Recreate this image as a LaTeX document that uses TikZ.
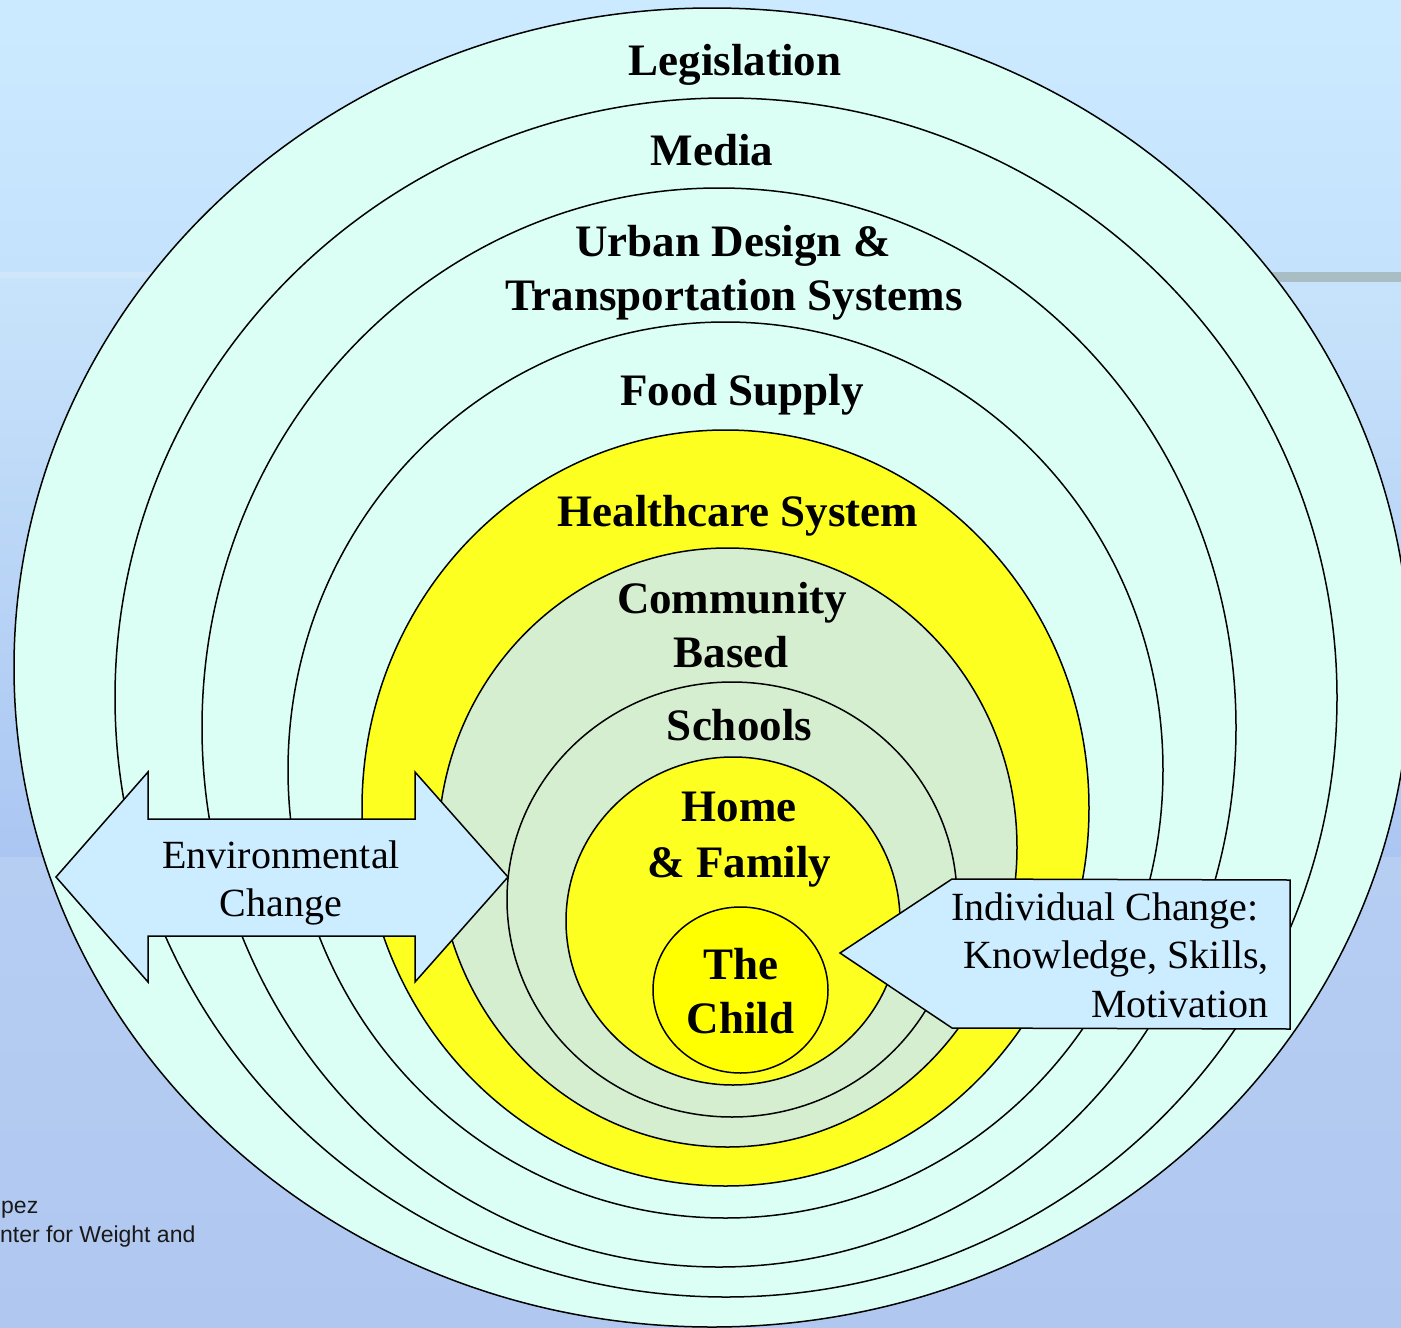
\documentclass[tikz,border=0pt]{standalone}
\usepackage{fontspec}
\setmainfont{Liberation Serif}
\newfontfamily\sansfnt{Liberation Sans}
\definecolor{ringcyan}{RGB}{220,255,245}
\definecolor{ringyellow}{RGB}{252,255,32}
\definecolor{childyellow}{RGB}{255,255,0}
\definecolor{ringgreen}{RGB}{214,238,208}
\definecolor{arrowblue}{RGB}{204,236,255}
\definecolor{bgA}{RGB}{204,234,255}
\definecolor{bgB}{RGB}{196,226,252}
\definecolor{bgC}{RGB}{200,228,251}
\definecolor{bgD}{RGB}{171,198,242}
\definecolor{bgE}{RGB}{182,206,242}
\definecolor{bgF}{RGB}{176,200,240}
\definecolor{stripcol}{RGB}{208,230,250}
\definecolor{graycol}{RGB}{168,190,196}
\definecolor{smalltext}{RGB}{25,25,25}
\tikzset{
  ring/.style={draw=black, line width=1.5pt},
  arrowshape/.style={draw=black, line width=1.5pt, fill=arrowblue},
  lbl/.style={font=\fontsize{45}{54}\selectfont\bfseries, anchor=base, inner sep=0pt},
  txt/.style={font=\fontsize{40}{48}\selectfont, inner sep=0pt},
  credit/.style={font=\sansfnt\fontsize{23}{28}\selectfont, text=smalltext, anchor=base west, inner sep=0pt}
}
\begin{document}
\begin{tikzpicture}[x=1pt,y=-1pt]
\useasboundingbox (0,0) rectangle (1401,1328);
\clip (0,0) rectangle (1401,1328);
% background
\shade[top color=bgA, bottom color=bgB] (0,0) rectangle (1401,272);
\shade[top color=bgC, bottom color=bgD] (0,272) rectangle (1401,857);
\shade[top color=bgE, bottom color=bgF] (0,857) rectangle (1401,1328);
\fill[stripcol] (0,272) rectangle (300,278);
\fill[graycol] (1100,272) rectangle (1401,282);
% rings
\path[ring, fill=ringcyan]    (712,667.5)   ellipse [x radius=698pt,   y radius=659.5pt];
\path[ring, fill=ringcyan]    (726,697.5)   ellipse [x radius=611pt,   y radius=599.5pt];
\path[ring, fill=ringcyan]    (719,727.5)   ellipse [x radius=517pt,   y radius=539.5pt];
\path[ring, fill=ringcyan]    (725.5,770)   ellipse [x radius=437.5pt, y radius=448pt];
\path[ring, fill=ringyellow]  (725.5,808)   ellipse [x radius=363.5pt, y radius=378pt];
\path[ring, fill=ringgreen]   (727.5,847.5) ellipse [x radius=289.5pt, y radius=299.5pt];
\path[ring, fill=ringgreen]   (732,899.5)   ellipse [x radius=225pt,   y radius=217.5pt];
\path[ring, fill=ringyellow]  (733,921)     ellipse [x radius=167pt,   y radius=164pt];
\path[ring, fill=childyellow] (740.5,990)   ellipse [x radius=87.5pt,  y radius=83pt];
% arrows
\path[arrowshape] (56,877) -- (148,772) -- (148,819) -- (415,819) -- (415,772) -- (508,877)
  -- (415,982) -- (415,936) -- (148,936) -- (148,982) -- cycle;
\path[arrowshape] (840,953) -- (952,879) -- (1290,880) -- (1290,1029) -- (952,1028) -- cycle;
% ring labels
\node[lbl] (legis) at (735,75) {Legislation};
\node[lbl] (media) at (712,165) {Media};
\node[lbl] (urbanA) at (733,256) {Urban Design \&};
\node[lbl] (urbanB) at (734,310) {Transportation Systems};
\node[lbl] (food) at (742,405) {Food Supply};
\node[lbl] (health) at (738,526) {Healthcare System};
\node[lbl] (commA) at (732,613) {Community};
\node[lbl] (commB) at (731,667) {Based};
\node[lbl] (schools) at (739.5,740) {Schools};
\node[lbl] (homeA) at (739,821) {Home};
\node[lbl] (homeB) at (739.5,877) {\& Family};
\node[lbl] (childA) at (741,979) {The};
\node[lbl] (childB) at (740.5,1033) {Child};
% arrow labels
\node[txt, anchor=base] (envA) at (281,868) {Environmental};
\node[txt, anchor=base] (envB) at (281,916) {Change};
\node[txt, anchor=base east] (indA) at (1259,920) {Individual Change:};
\node[txt, anchor=base east] (indB) at (1269,968) {Knowledge, Skills,};
\node[txt, anchor=base east] (indC) at (1269,1017) {Motivation};
% credit text
\node[credit] (credA) at (1,1213) {pez};
\node[credit] (credB) at (0,1242) {nter for Weight and};
\end{tikzpicture}
\end{document}
